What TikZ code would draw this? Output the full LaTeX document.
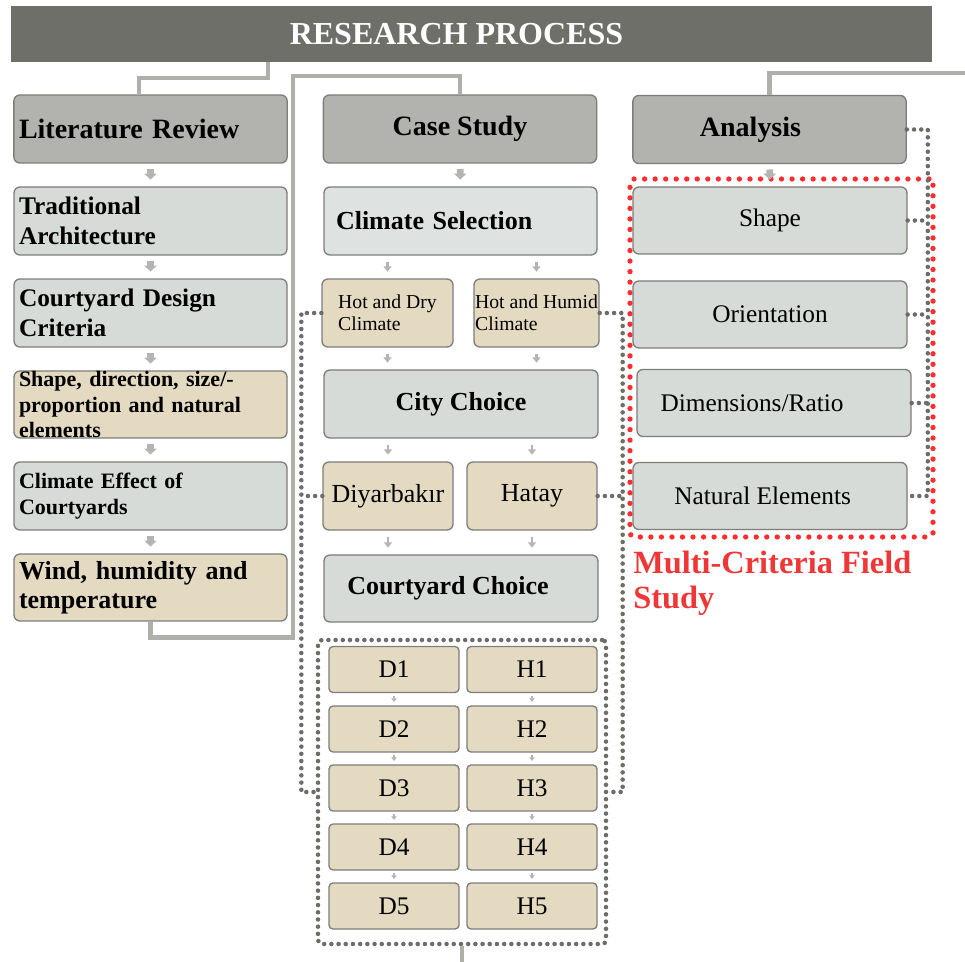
\documentclass[tikz,border=0pt]{standalone}
\usepackage{fontspec}
\setmainfont{Liberation Serif}
\usetikzlibrary{arrows.meta}
\definecolor{titlegray}{RGB}{111,111,106}
\definecolor{hdrgray}{RGB}{178,178,174}
\definecolor{boxgray}{RGB}{214,219,216}
\definecolor{boxgraylt}{RGB}{222,226,224}
\definecolor{boxbeige}{RGB}{227,218,193}
\definecolor{edgegray}{RGB}{125,125,121}
\definecolor{conngray}{RGB}{176,176,171}
\definecolor{arrowgray}{RGB}{180,180,178}
\definecolor{dotgray}{RGB}{108,108,104}
\definecolor{reddot}{RGB}{255,45,45}
\definecolor{redtext}{RGB}{240,55,55}
\newcommand{\fsz}[2]{\fontsize{#1}{#2}\selectfont}
\begin{document}
\begin{tikzpicture}[x=0.75pt,y=-0.75pt,
  bx/.style={draw=edgegray, line width=1pt, rounded corners=4.5pt, inner sep=0pt, minimum height=51pt},
  hdr/.style={bx, fill=hdrgray, minimum width=205pt, font=\fsz{21}{25}\bfseries},
  lbox/.style={bx, minimum width=204.75pt, text width=197.25pt, inner xsep=3.75pt, align=left},
  abox/.style={bx, fill=boxgray, minimum width=205.5pt, minimum height=50.25pt, font=\fsz{19}{22}},
  dbx/.style={bx, fill=boxbeige, minimum width=97.5pt, minimum height=34.5pt, rounded corners=3pt, font=\fsz{19}{22}},
  conn/.style={draw=conngray, line width=3.5pt},
  bigarr/.style={draw=arrowgray, line width=5pt, -{Triangle[width=9pt,length=4.5pt]}, shorten <=4pt, shorten >=5pt},
  smarr/.style={draw=arrowgray, line width=2pt, -{Triangle[width=6pt,length=4pt]}, shorten <=4.5pt, shorten >=5pt},
  tinyarr/.style={draw=arrowgray, line width=1.5pt, -{Triangle[width=4pt,length=2.8pt]}, shorten <=2pt, shorten >=2.5pt},
  gdots/.style={draw=dotgray, line width=3.4pt, dash pattern=on 0pt off 5.4pt, line cap=round},
  rdots/.style={draw=reddot, line width=4pt, dash pattern=on 0pt off 7.9pt, line cap=round}
]
\useasboundingbox (0,0) rectangle (965,962);

% title
\node[fill=titlegray, minimum width=690.75pt, minimum height=42pt, inner sep=0pt, text=white, font=\fsz{24}{28}\bfseries] (title) at (471.5,34) {RESEARCH PROCESS\hspace*{22.5pt}};

% left column
\node[hdr, text width=197.25pt, inner xsep=3.75pt, align=left] (lr) at (150.5,129) {Literature Review};
\node[lbox, fill=boxgray, font=\fsz{19}{22.5}\bfseries] (ta) at (150.5,221) {Traditional\\Architecture};
\node[lbox, fill=boxgray, font=\fsz{19}{22.5}\bfseries] (cd) at (150.5,313) {Courtyard Design\\Criteria};
\node[lbox, fill=boxbeige, font=\fsz{16.5}{19}\bfseries, minimum height=50.25pt] (sd) at (150.5,404.5) {Shape, direction, size/-\\proportion and natural\\elements};
\node[lbox, fill=boxgray, font=\fsz{16.5}{19}\bfseries] (ce) at (150.5,496) {Climate Effect of\\Courtyards};
\node[lbox, fill=boxbeige, font=\fsz{19.5}{21.5}\bfseries, minimum height=50.25pt] (wh) at (150.5,587.5) {Wind, humidity and\\temperature};

% middle column
\node[hdr] (cs) at (460,129) {Case Study};
\node[bx, fill=boxgraylt, minimum width=204.75pt, text width=186.75pt, inner xsep=9pt, align=left, font=\fsz{19.5}{23}\bfseries] (csel) at (460.5,221) {Climate Selection};
\node[bx, fill=boxbeige, minimum width=98.25pt, align=left, font=\fsz{14.8}{16.5}] (hd) at (387.5,313) {Hot and Dry\\Climate};
\node[bx, fill=boxbeige, minimum width=93.75pt, align=left, font=\fsz{14.8}{16.5}] (hh) at (536.5,313) {Hot and Humid\\Climate};
\node[bx, fill=boxgray, minimum width=205.5pt, font=\fsz{19.5}{23}\bfseries] (cc) at (461,404) {City Choice};
\node[bx, fill=boxbeige, minimum width=97.5pt, font=\fsz{19.5}{23}] (di) at (388,496) {Diyarbakır};
\node[bx, fill=boxbeige, minimum width=97.5pt, font=\fsz{19.5}{23}] (ha) at (532,496) {Hatay};
\node[bx, fill=boxgray, minimum width=205.5pt, minimum height=50.25pt, font=\fsz{19.5}{23}\bfseries] (coc) at (461,588.5) {Courtyard Choice\hspace*{19.5pt}};

\node[gdots, rounded corners=3pt, minimum width=216pt, minimum height=228pt, inner sep=0pt] (dbox) at (462,792) {};
\node[dbx] (d1) at (394,669.5) {D1};
\node[dbx] (d2) at (394,729) {D2};
\node[dbx] (d3) at (394,788) {D3};
\node[dbx] (d4) at (394,847) {D4};
\node[dbx] (d5) at (394,906) {D5};
\node[dbx] (h1) at (532,669.5) {H1};
\node[dbx] (h2) at (532,729) {H2};
\node[dbx] (h3) at (532,788) {H3};
\node[dbx] (h4) at (532,847) {H4};
\node[dbx] (h5) at (532,906) {H5};

% right column
\node[hdr] (an) at (769.5,129.5) {Analysis\hspace*{28.5pt}};
\node[rdots, rounded corners=3pt, minimum width=227.25pt, minimum height=268.5pt, inner sep=0pt] (mcf) at (781.5,358) {};
\node[abox] (sh) at (770,220.5) {Shape};
\node[abox] (or) at (770,314.5) {Orientation};
\node[abox] (dm) at (774,403) {Dimensions/Ratio\hspace*{33pt}};
\node[abox] (ne) at (770,496) {Natural Elements\hspace*{11pt}};
\node[anchor=north west, inner sep=0pt, align=left, text=redtext, font=\fsz{24.3}{26}\bfseries] (mct) at (633,551) {Multi-Criteria Field\\Study};

% solid connectors
\coordinate (tl) at (268,62);
\coordinate (lrin) at (139,95);
\coordinate (bend) at (293,76);
\coordinate (offr) at (980,73);
\coordinate (offb) at (457,980);
\draw[conn] (tl) -- ++(0,16) -| (lrin);
\draw[conn] (wh.south) -- ++(0,16) -| (bend) -| (cs.north);
\draw[conn] (an.north) |- (offr);
\draw[conn] (dbox.south) -- (dbox.south |- offb);

% block arrows
\foreach \a/\b in {lr/ta, ta/cd, cd/sd, sd/ce, ce/wh, cs/csel, an/sh}
  \draw[bigarr] (\a) -- (\b);
\draw[smarr] (csel.south -| hd.north) -- (hd.north);
\draw[smarr] (csel.south -| hh.north) -- (hh.north);
\draw[smarr] (hd.south) -- (hd.south |- cc.north);
\draw[smarr] (hh.south) -- (hh.south |- cc.north);
\draw[smarr] (cc.south -| di.north) -- (di.north);
\draw[smarr] (cc.south -| ha.north) -- (ha.north);
\draw[smarr] (di.south) -- (di.south |- coc.north);
\draw[smarr] (ha.south) -- (ha.south |- coc.north);
\foreach \i/\j in {1/2,2/3,3/4,4/5} {
  \draw[tinyarr] (d\i) -- (d\j);
  \draw[tinyarr] (h\i) -- (h\j);
}

% dotted connectors
\draw[gdots] (hd.west) -- ++(-20,0) |- (dbox.west);
\draw[gdots] (di.west) -- ++(-21,0);
\draw[gdots] (hh.east) -- ++(23,0) |- (dbox.east);
\draw[gdots] (ha.east) -- ++(25,0);
\draw[gdots] (an.east) -- ++(21,0) |- (ne.east);
\draw[gdots] (sh.east) -- ++(20,0);
\draw[gdots] (or.east) -- ++(20,0);
\draw[gdots] (dm.east) -- ++(16,0);
\end{tikzpicture}
\end{document}
